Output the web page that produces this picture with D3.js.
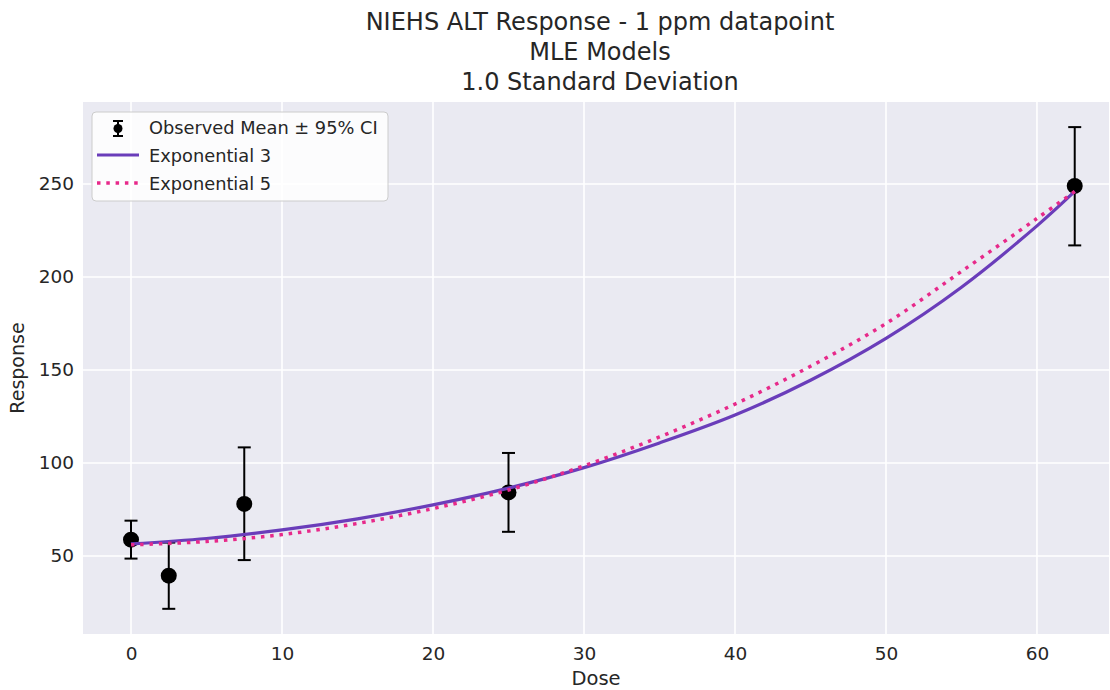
<!DOCTYPE html>
<html>
<head>
<meta charset="utf-8">
<script src="https://cdn.jsdelivr.net/npm/d3@7"></script>
<style>
  html, body { margin: 0; padding: 0; background: #ffffff; }
  svg { display: block; font-family: "DejaVu Sans", sans-serif; }
</style>
</head>
<body>
<svg id="chart" width="1110" height="690"></svg>
<script>
// ---- data ----
const titleLines = ["NIEHS ALT Response - 1 ppm datapoint", "MLE Models", "1.0 Standard Deviation"];
const doses = [0, 2.5, 7.5, 25, 62.5];
const means = [58.8, 39.4, 78.0, 84.2, 249.0];
const ciLow = [48.6, 21.6, 47.8, 63.0, 217.0];
const ciHigh = [69.0, 57.2, 108.4, 105.4, 280.6];

const curveDoses = [0, 5, 10, 15, 20, 25, 30, 35, 40, 45, 50, 55, 60, 62.5];
const exp3Values = [56.5, 59.4, 64.0, 70.0, 77.5, 86.5, 97.5, 110.8, 125.8, 144.5, 167.0, 194.5, 227.5, 246.0];
const exp5Values = [56.0, 57.8, 61.5, 67.5, 75.5, 85.5, 98.5, 114.0, 131.7, 152.0, 175.0, 203.0, 231.5, 246.0];

const xTicks = [0, 10, 20, 30, 40, 50, 60];
const yTicks = [50, 100, 150, 200, 250];
const seriesNames = ["Observed Mean \u00b1 95% CI", "Exponential 3", "Exponential 5"];

// ---- layout ----
const svg = d3.select("#chart");
const plot = { left: 83, right: 1109, top: 102, bottom: 634 };
const x = d3.scaleLinear().domain([-3.18, 64.77]).range([plot.left, plot.right]);
const y = d3.scaleLinear().domain([8.06, 294.1]).range([plot.bottom, plot.top]);
const textColor = "#262626";
const purple = "#6a3dba";
const pink = "#e7298a";

// background
svg.append("rect").attr("x", plot.left).attr("y", plot.top)
  .attr("width", plot.right - plot.left).attr("height", plot.bottom - plot.top)
  .attr("fill", "#eaeaf2");

// grid
const grid = svg.append("g");
grid.selectAll("line.gx").data(xTicks).join("line")
  .attr("x1", d => x(d)).attr("x2", d => x(d))
  .attr("y1", plot.top).attr("y2", plot.bottom)
  .attr("stroke", "#ffffff").attr("stroke-width", 1.6);
grid.selectAll("line.gy").data(yTicks).join("line")
  .attr("y1", d => y(d)).attr("y2", d => y(d))
  .attr("x1", plot.left).attr("x2", plot.right)
  .attr("stroke", "#ffffff").attr("stroke-width", 1.6);

// axes (tick labels only, seaborn style)
const xAxis = d3.axisBottom(x).tickValues(xTicks).tickSize(0).tickPadding(13).tickFormat(d3.format("d"));
const gx = svg.append("g").attr("transform", `translate(0,${plot.bottom})`).call(xAxis);
gx.select(".domain").remove();
gx.selectAll("text").attr("font-size", 18.5).attr("fill", textColor).attr("font-family", "DejaVu Sans");

const yAxis = d3.axisLeft(y).tickValues(yTicks).tickSize(0).tickPadding(9).tickFormat(d3.format("d"));
const gy = svg.append("g").attr("transform", `translate(${plot.left},0)`).call(yAxis);
gy.select(".domain").remove();
gy.selectAll("text").attr("font-size", 18.5).attr("fill", textColor).attr("font-family", "DejaVu Sans");

// axis labels
svg.append("text").attr("x", (plot.left + plot.right) / 2).attr("y", 685)
  .attr("text-anchor", "middle").attr("font-size", 19.5).attr("fill", textColor).text("Dose");
svg.append("text").attr("transform", `translate(24,${(plot.top + plot.bottom) / 2}) rotate(-90)`)
  .attr("text-anchor", "middle").attr("font-size", 19).attr("fill", textColor).text("Response");

// title
svg.append("g").selectAll("text").data(titleLines).join("text")
  .attr("x", 600).attr("y", (d, i) => 30 + i * 30)
  .attr("text-anchor", "middle").attr("font-size", 24).attr("fill", textColor)
  .text(d => d);

// error bars + points
const obs = doses.map((d, i) => ({ d, m: means[i], lo: ciLow[i], hi: ciHigh[i] }));
const eb = svg.append("g");
eb.selectAll("line.v").data(obs).join("line")
  .attr("x1", d => x(d.d)).attr("x2", d => x(d.d))
  .attr("y1", d => y(d.lo)).attr("y2", d => y(d.hi))
  .attr("stroke", "#000").attr("stroke-width", 2);
eb.selectAll("line.ct").data(obs).join("line")
  .attr("x1", d => x(d.d) - 6.5).attr("x2", d => x(d.d) + 6.5)
  .attr("y1", d => y(d.hi)).attr("y2", d => y(d.hi))
  .attr("stroke", "#000").attr("stroke-width", 2);
eb.selectAll("line.cb").data(obs).join("line")
  .attr("x1", d => x(d.d) - 6.5).attr("x2", d => x(d.d) + 6.5)
  .attr("y1", d => y(d.lo)).attr("y2", d => y(d.lo))
  .attr("stroke", "#000").attr("stroke-width", 2);
eb.selectAll("circle").data(obs).join("circle")
  .attr("cx", d => x(d.d)).attr("cy", d => y(d.m)).attr("r", 8).attr("fill", "#000");

// model curves
const line = d3.line().x(d => x(d[0])).y(d => y(d[1])).curve(d3.curveCatmullRom.alpha(0.5));
svg.append("path").datum(curveDoses.map((d, i) => [d, exp3Values[i]]))
  .attr("d", line).attr("fill", "none").attr("stroke", purple).attr("stroke-width", 3.2);
svg.append("path").datum(curveDoses.map((d, i) => [d, exp5Values[i]]))
  .attr("d", line).attr("fill", "none").attr("stroke", pink).attr("stroke-width", 3.5)
  .attr("stroke-dasharray", "3.5,5.8");

// legend
const lg = svg.append("g");
lg.append("rect").attr("x", 92).attr("y", 112).attr("width", 296).attr("height", 89)
  .attr("rx", 4).attr("fill", "#ffffff").attr("fill-opacity", 0.85)
  .attr("stroke", "#cccccc").attr("stroke-width", 1);
// errorbar symbol
lg.append("line").attr("x1", 118).attr("x2", 118).attr("y1", 121).attr("y2", 136).attr("stroke", "#000").attr("stroke-width", 2);
lg.append("line").attr("x1", 113).attr("x2", 123).attr("y1", 121).attr("y2", 121).attr("stroke", "#000").attr("stroke-width", 2);
lg.append("line").attr("x1", 113).attr("x2", 123).attr("y1", 136).attr("y2", 136).attr("stroke", "#000").attr("stroke-width", 2);
lg.append("circle").attr("cx", 118).attr("cy", 128.5).attr("r", 4.5).attr("fill", "#000");
lg.append("line").attr("x1", 97).attr("x2", 139).attr("y1", 155).attr("y2", 155).attr("stroke", purple).attr("stroke-width", 3.2);
lg.append("line").attr("x1", 97).attr("x2", 139).attr("y1", 183).attr("y2", 183).attr("stroke", pink).attr("stroke-width", 3.5).attr("stroke-dasharray", "3.5,5.8");
lg.selectAll("text").data(seriesNames).join("text")
  .attr("x", 149).attr("y", (d, i) => 134 + i * 28)
  .attr("font-size", 17.8).attr("fill", textColor).text(d => d);
</script>
</body>
</html>
